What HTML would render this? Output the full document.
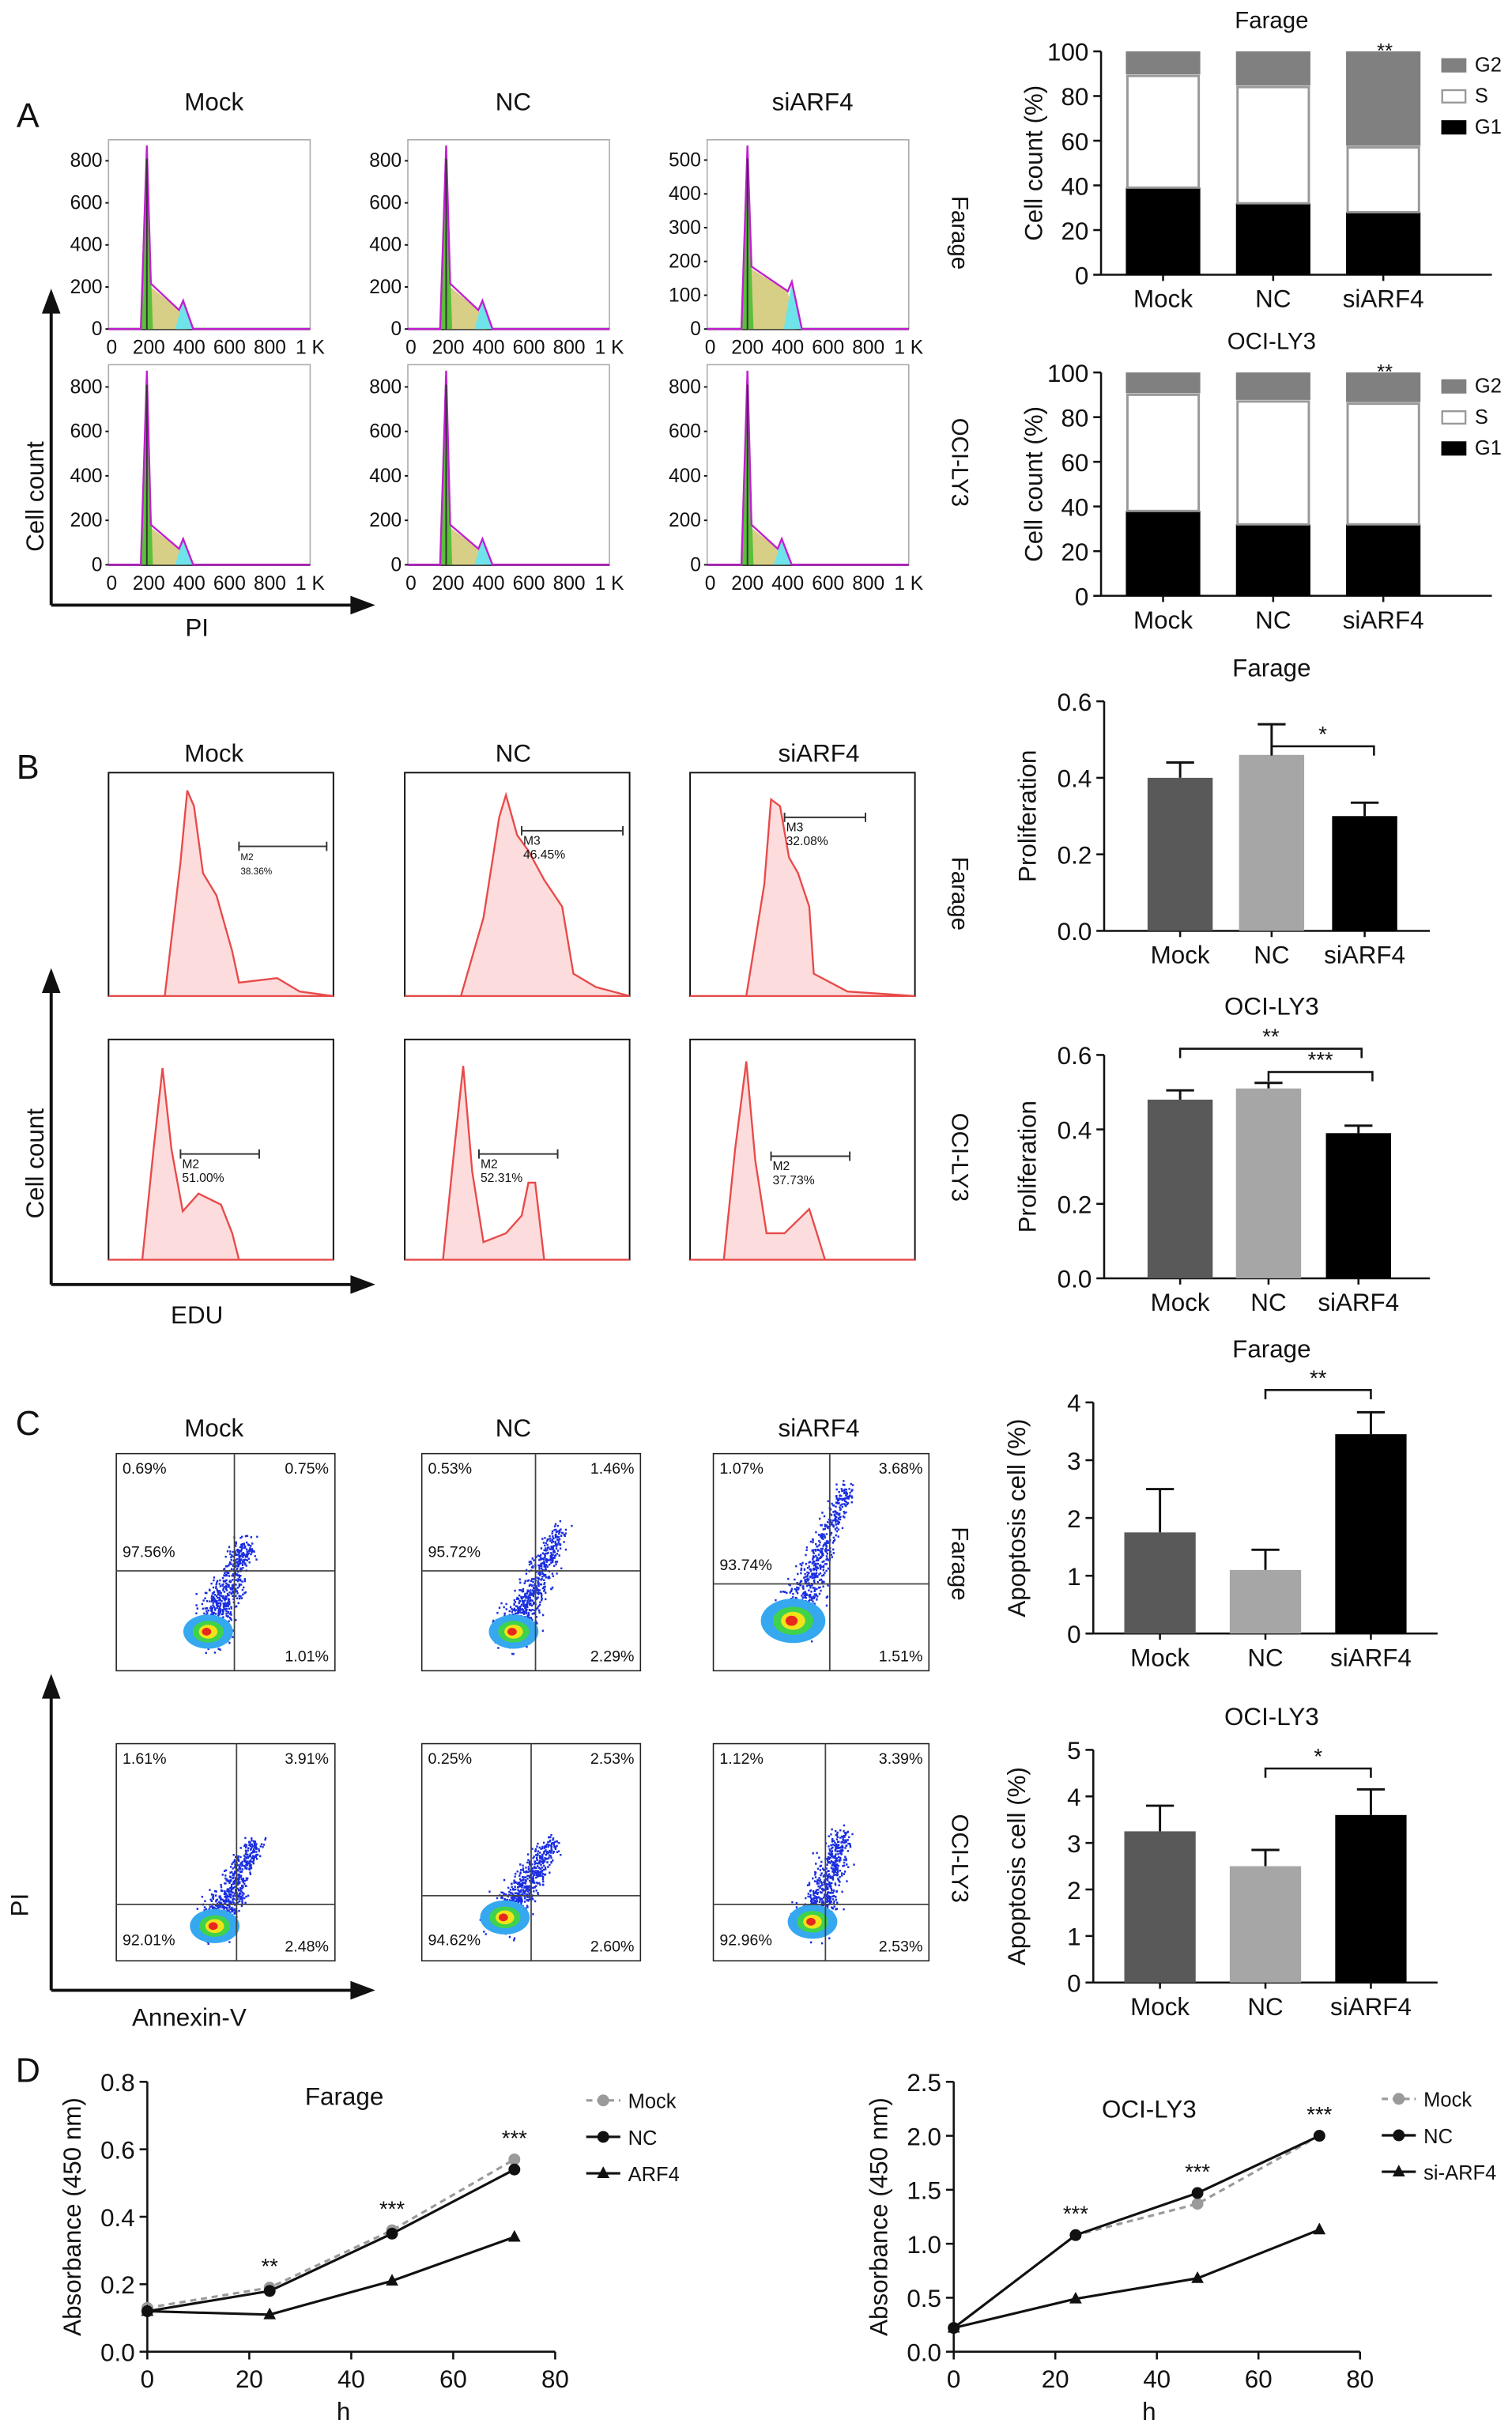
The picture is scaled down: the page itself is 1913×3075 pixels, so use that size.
<!DOCTYPE html>
<html><head><meta charset="utf-8"><style>
html,body{margin:0;padding:0;background:#fff;}
svg{display:block;font-family:"Liberation Sans",Arial,sans-serif;}
</style></head><body>
<svg id="fig" width="1913" height="3075" viewBox="0 0 975 1567" xmlns="http://www.w3.org/2000/svg"></svg>
<script>
// ---------- data ----------
const groups = ["Mock","NC","siARF4"];
const phaseNames = ["G1","S","G2"];
const faragePhaseG1 = [39,32,28];
const faragePhaseS = [50,52,29];
const faragePhaseG2 = [11,16,43];
const ociPhaseG1 = [38,32,32];
const ociPhaseS = [52,55,54];
const ociPhaseG2 = [10,13,14];
const farageProlif = [0.40,0.46,0.30];
const farageProlifErr = [0.04,0.08,0.035];
const ociProlif = [0.48,0.51,0.39];
const ociProlifErr = [0.025,0.015,0.02];
const farageApop = [1.75,1.1,3.45];
const farageApopErr = [0.75,0.35,0.38];
const ociApop = [3.25,2.5,3.6];
const ociApopErr = [0.55,0.35,0.55];
const timePoints = [0,24,48,72];
const farageMock = [0.13,0.19,0.36,0.57];
const farageNC = [0.12,0.18,0.35,0.54];
const farageARF4 = [0.12,0.11,0.21,0.34];
const ociMock = [0.22,1.08,1.37,2.0];
const ociNC = [0.22,1.08,1.47,2.0];
const ociARF4 = [0.22,0.49,0.68,1.13];
const farageQuad = [["0.69%","0.75%","97.56%","1.01%"],["0.53%","1.46%","95.72%","2.29%"],["1.07%","3.68%","93.74%","1.51%"]];
const ociQuad = [["1.61%","3.91%","92.01%","2.48%"],["0.25%","2.53%","94.62%","2.60%"],["1.12%","3.39%","92.96%","2.53%"]];
const farageEdu = [["M2","38.36%"],["M3","46.45%"],["M3","32.08%"]];
const ociEdu = [["M2","51.00%"],["M2","52.31%"],["M2","37.73%"]];

const NS="http://www.w3.org/2000/svg";
const svg=document.getElementById('fig');
function mk(tag,attrs,parent,name){
  const e=document.createElementNS(NS,tag);
  for(const k in attrs)e.setAttribute(k,attrs[k]);
  
  
  (parent||svg).appendChild(e);return e;
}
function txt(x,y,s,size,name,opts){
  opts=opts||{};
  const a={x:x,y:y,'font-size':size,'text-anchor':opts.anchor||'middle',fill:opts.fill||'#111'};
  if(opts.rot)a.transform='rotate('+opts.rot+' '+x+' '+y+')';
  const t=mk('text',a,opts.parent,name);t.textContent=s;return t;
}
function line(x1,y1,x2,y2,name,w,c,p){return mk('line',{x1:x1,y1:y1,x2:x2,y2:y2,stroke:c||'#111','stroke-width':w||1.3},p,name);}
function arrow(x1,y1,x2,y2,name){
  line(x1,y1,x2,y2,name+'-line',2);
  const dx=x2-x1,dy=y2-y1,L=Math.hypot(dx,dy),ux=dx/L,uy=dy/L;
  const px=-uy,py=ux;
  mk('polygon',{points:[x2+ux*4,y2+uy*4,x2-ux*12+px*6,y2-uy*12+py*6,x2-ux*12-px*6,y2-uy*12-py*6].join(','),fill:'#111'},null,name+'-head');
}

// ---------- Panel letters ----------
txt(18,82,"A",22,"panel-a-label");
txt(18,502,"B",22,"panel-b-label");
txt(18,925,"C",22,"panel-c-label");
txt(18,1342,"D",22,"panel-d-label");

// ---------- Panel A cell cycle histograms ----------
const aCols=[{x:70,t:"Mock"},{x:263,t:"NC"},{x:456,t:"siARF4"}];
const aRows=[{y:90,b:212},{y:235,b:364}];
const aYT=[[800,600,400,200,0],[800,600,400,200,0],[500,400,300,200,100,0]];
aCols.forEach((c,ci)=>txt(c.x+68,71,c.t,16,"panel-a-title-"+c.t.toLowerCase()));
aRows.forEach((r,ri)=>aCols.forEach((c,ci)=>{
  const g=mk('g',{},null,'cycle-histogram-'+ri+'-'+ci);
  const w=130,x0=c.x,b=r.b,h=b-r.y;
  mk('rect',{x:x0,y:r.y,width:w,height:h,fill:'#fff',stroke:'#aaa','stroke-width':0.8},g,'histogram-frame');
  const ticks=(ri==0?aYT[ci]:[800,600,400,200,0]);
  const maxv=ri==0&&ci==2?560:900;
  ticks.forEach(v=>{const yy=b-v/maxv*(h);txt(x0-4,yy+4,String(v),12.5,'y-tick',{anchor:'end',parent:g});line(x0-2,yy,x0,yy,'y-tick-mark',1,'#111',g);});
  ["0","200","400","600","800","1 K"].forEach((s,i)=>{const xx=x0+i*w/5;txt(xx+(i==0?2:0),b+16,s,12.5,'x-tick',{parent:g});});
  line(x0,b,x0+w,b,'histogram-baseline',1.5,'#222',g);
  const X=f=>x0+f*w, Y=f=>b-f*h;
  const pk=ci==2?0.2:0.19, g2=ci==2&&ri==0?0.42:0.37;
  const s1=ri==0?(ci==2?0.33:0.24):0.2, s2=ri==0?(ci==2?0.2:0.1):0.08;
  mk('polygon',{points:[X(pk),Y(0),X(pk),Y(s1),X(g2-0.02),Y(s2),X(g2+0.02),Y(0)].join(' '),fill:'#d8cf86'},g,'s-phase-fill');
  mk('polygon',{points:[X(pk-0.03),Y(0),X(pk),Y(0.95),X(pk+0.03),Y(0)].join(' '),fill:'#5bbf3a'},g,'g1-fill');
  mk('polygon',{points:[X(g2-0.04),Y(0),X(g2),Y(s2+0.05),X(g2+0.05),Y(0)].join(' '),fill:'#6fe3ea'},g,'g2-fill');
  mk('polyline',{points:[X(0),Y(0),X(pk-0.03),Y(0),X(pk),Y(0.97),X(pk+0.02),Y(s1),X(g2-0.02),Y(s2),X(g2),Y(s2+0.05),X(g2+0.05),Y(0),X(1),Y(0)].join(' '),fill:'none',stroke:'#c020d0','stroke-width':1.2},g,'histogram-fit');
  line(X(pk),Y(0),X(pk),Y(0.9),'g1-peak-line',1,'#333',g);
}));
txt(614,150,"Farage",15,"row-label-farage-a",{rot:90});
txt(614,298,"OCI-LY3",15,"row-label-oci-a",{rot:90});
arrow(33,390,33,190,"a-y-arrow");arrow(33,390,238,390,"a-x-arrow");
txt(28,320,"Cell count",16,"a-y-axis-title",{rot:-90});
txt(127,410,"PI",16,"a-x-axis-title");

// ---------- Stacked bar charts ----------
function stacked(top,g1,s,g2,title,key){
  const ax=710,y0=top+144,H=144,sc=v=>y0-v/100*H;
  txt(820,top-15,title,15,key+'-title');
  line(ax,top,ax,y0,key+'-y-axis');line(ax,y0,962,y0,key+'-x-axis');
  [0,20,40,60,80,100].forEach(v=>{line(ax-5,sc(v),ax,sc(v),'y-tick-mark');txt(ax-8,sc(v)+6,String(v),16,'y-tick',{anchor:'end'});});
  txt(672,top+72,"Cell count (%)",16,key+'-y-axis-title',{rot:-90});
  groups.forEach((gname,i)=>{
    const cx=750+i*71,w=48;
    mk('rect',{x:cx-w/2,y:sc(g1[i]),width:w,height:y0-sc(g1[i]),fill:'#000'},null,key+'-bar-g1-'+gname);
    mk('rect',{x:cx-w/2+1,y:sc(g1[i]+s[i]),width:w-2,height:sc(g1[i])-sc(g1[i]+s[i]),fill:'#fff',stroke:'#999','stroke-width':1.5},null,key+'-bar-s-'+gname);
    mk('rect',{x:cx-w/2,y:sc(100),width:w,height:sc(g1[i]+s[i])-sc(100)-1,fill:'#808080'},null,key+'-bar-g2-'+gname);
    line(cx,y0,cx,y0+4,'x-tick-mark');
    txt(cx,y0+21,gname,16,key+'-x-label-'+gname);
  });
  txt(893,top+4,"**",13,key+'-significance');
  [["#808080","G2"],["#fff","S"],["#000","G1"]].forEach((l,i)=>{
    mk('rect',{x:930,y:top+5+i*20,width:15,height:8,fill:l[0],stroke:l[0]=="#fff"?'#999':l[0],'stroke-width':1.2},null,key+'-legend-swatch-'+l[1]);
    txt(951,top+13+i*20,l[1],13,key+'-legend-'+l[1],{anchor:'start'});
  });
}
stacked(33,faragePhaseG1,faragePhaseS,faragePhaseG2,"Farage","farage-cycle");
stacked(240,ociPhaseG1,ociPhaseS,ociPhaseG2,"OCI-LY3","oci-cycle");

// ---------- Panel B EdU histograms ----------
const bCols=[70,261,445];
const bW=145;
const bShapes=[
 [[0,0],[0.25,0],[0.32,0.6],[0.35,0.92],[0.38,0.85],[0.42,0.55],[0.48,0.45],[0.55,0.2],[0.58,0.06],[0.75,0.08],[0.85,0.02],[1,0]],
 [[0,0],[0.25,0],[0.35,0.35],[0.42,0.8],[0.45,0.9],[0.5,0.72],[0.55,0.65],[0.62,0.52],[0.7,0.4],[0.75,0.1],[0.85,0.04],[1,0]],
 [[0,0],[0.25,0],[0.33,0.5],[0.36,0.88],[0.4,0.85],[0.44,0.62],[0.48,0.55],[0.53,0.4],[0.55,0.1],[0.7,0.02],[1,0]]];
const bShapes2=[
 [[0,0],[0.15,0],[0.2,0.5],[0.24,0.87],[0.28,0.5],[0.33,0.22],[0.4,0.3],[0.5,0.25],[0.55,0.12],[0.58,0],[1,0]],
 [[0,0],[0.17,0],[0.22,0.5],[0.26,0.88],[0.3,0.4],[0.35,0.08],[0.45,0.12],[0.52,0.2],[0.55,0.35],[0.58,0.35],[0.62,0],[1,0]],
 [[0,0],[0.15,0],[0.2,0.5],[0.25,0.9],[0.29,0.45],[0.34,0.12],[0.42,0.12],[0.5,0.2],[0.53,0.23],[0.57,0.1],[0.6,0],[1,0]]];
const bMark=[[0.58,0.97,0.33],[0.52,0.97,0.26],[0.42,0.78,0.2]];
const bMark2=[[0.32,0.67,0.52],[0.33,0.68,0.52],[0.36,0.71,0.53]];
[[498,642,bShapes,bMark,farageEdu],[670,812,bShapes2,bMark2,ociEdu]].forEach((row,ri)=>{
  bCols.forEach((x0,ci)=>{
    const g=mk('g',{},null,'edu-histogram-'+ri+'-'+ci);
    const top=row[0],b=row[1],h=b-top;
    mk('rect',{x:x0,y:top,width:bW,height:h,fill:'#fff',stroke:'#111','stroke-width':1},g,'edu-frame');
    const pts=row[2][ci].map(p=>(x0+p[0]*bW)+','+(b-p[1]*h)).join(' ');
    mk('polygon',{points:pts,fill:'#fcdcdc',stroke:'#e84a4a','stroke-width':1.2},g,'edu-curve');
    const m=row[3][ci],my=top+m[2]*h;
    line(x0+m[0]*bW,my,x0+m[1]*bW,my,'edu-gate',1,'#333',g);
    line(x0+m[0]*bW,my-3,x0+m[0]*bW,my+3,'edu-gate-end',1,'#333',g);
    line(x0+m[1]*bW,my-3,x0+m[1]*bW,my+3,'edu-gate-end',1,'#333',g);
    const fs=ri==0&&ci==0?6:8;
    txt(x0+m[0]*bW+1,my+9,row[4][ci][0],fs,'edu-gate-name',{anchor:'start',parent:g});
    txt(x0+m[0]*bW+1,my+18,row[4][ci][1],fs,'edu-gate-value',{anchor:'start',parent:g});
  });
});
["Mock","NC","siARF4"].forEach((t,i)=>txt([138,331,528][i],491,t,16,"panel-b-title-"+t.toLowerCase()));
txt(614,576,"Farage",15,"row-label-farage-b",{rot:90});
txt(614,746,"OCI-LY3",15,"row-label-oci-b",{rot:90});
arrow(33,828,33,628,"b-y-arrow");arrow(33,828,238,828,"b-x-arrow");
txt(28,750,"Cell count",16,"b-y-axis-title",{rot:-90});
txt(127,853,"EDU",16,"b-x-axis-title");

// ---------- bar chart helper ----------
function barChart(o){
  const sc=v=>o.y0-v/o.max*o.H;
  txt(o.cx,o.top-16,o.title,16,o.key+'-title');
  line(o.ax,o.y0-o.H,o.ax,o.y0,o.key+'-y-axis');line(o.ax,o.y0,o.ax+o.xw,o.y0,o.key+'-x-axis');
  o.ticks.forEach(v=>{line(o.ax-5,sc(v),o.ax,sc(v),'y-tick-mark');txt(o.ax-8,sc(v)+6,o.fmt(v),16,'y-tick',{anchor:'end'});});
  txt(o.ax-44,o.y0-o.H/2,o.ylab,16,o.key+'-y-axis-title',{rot:-90});
  const cols=['#595959','#a6a6a6','#000'];
  groups.forEach((gname,i)=>{
    const cx=o.xs[i];
    const v=o.vals[i],e=o.errs[i];
    line(cx,sc(v+e),cx,sc(v),o.key+'-error-'+gname,1.5);
    line(cx-9,sc(v+e),cx+9,sc(v+e),o.key+'-error-cap-'+gname,1.5);
    mk('rect',{x:cx-o.bw/2,y:sc(v),width:o.bw,height:o.y0-sc(v),fill:cols[i]},null,o.key+'-bar-'+gname);
    line(cx,o.y0,cx,o.y0+4,'x-tick-mark');
    txt(cx,o.y0+21,gname,16,o.key+'-x-label-'+gname);
  });
  o.sig.forEach(s=>{
    const a=o.xs[s[0]],b=o.xs[s[1]]+s[3],y=s[2];
    mk('polyline',{points:[a,y+6,a,y,b,y,b,y+6].join(' '),fill:'none',stroke:'#111','stroke-width':1.3},null,o.key+'-significance-bracket');
    txt((a+b)/2,y-3,s[4],14,o.key+'-significance-stars');
  });
}
barChart({key:'farage-prolif',title:'Farage',cx:820,top:452,ax:712,y0:600,H:148,max:0.6,xw:210,ticks:[0,0.2,0.4,0.6],fmt:v=>v.toFixed(1),ylab:'Proliferation',xs:[761,820,880],bw:42,vals:farageProlif,errs:farageProlifErr,sig:[[1,2,481,6,'*']]});
barChart({key:'oci-prolif',title:'OCI-LY3',cx:820,top:670,ax:712,y0:824,H:144,max:0.6,xw:210,ticks:[0,0.2,0.4,0.6],fmt:v=>v.toFixed(1),ylab:'Proliferation',xs:[761,818,876],bw:42,vals:ociProlif,errs:ociProlifErr,sig:[[0,2,676,2,'**'],[1,2,691,9,'***']]});
barChart({key:'farage-apop',title:'Farage',cx:820,top:891,ax:705,y0:1053,H:149,max:4,xw:222,ticks:[0,1,2,3,4],fmt:v=>String(v),ylab:'Apoptosis cell (%)',xs:[748,816,884],bw:46,vals:farageApop,errs:farageApopErr,sig:[[1,2,896,0,'**']]});
barChart({key:'oci-apop',title:'OCI-LY3',cx:820,top:1128,ax:705,y0:1278,H:150,max:5,xw:222,ticks:[0,1,2,3,4,5],fmt:v=>String(v),ylab:'Apoptosis cell (%)',xs:[748,816,884],bw:46,vals:ociApop,errs:ociApopErr,sig:[[1,2,1140,0,'*']]});

// ---------- Panel C scatter ----------
let seed=7;function rnd(){seed=(seed*16807)%2147483647;return seed/2147483647;}
function gauss(){return (rnd()+rnd()+rnd()+rnd()-2)/1.2;}
const cBoxes=[[75,937,141,140],[272,937,141,140],[460,937,139,140],[75,1124,141,140],[272,1124,141,140],[460,1124,139,140]];
const cQuad=[[0.54,0.54],[0.52,0.54],[0.54,0.6],[0.55,0.74],[0.5,0.7],[0.52,0.74]];
const cBlob=[[0.42,0.82],[0.42,0.82],[0.37,0.77],[0.45,0.84],[0.38,0.8],[0.46,0.82]];
const cTail=[[0.6,0.4],[0.63,0.35],[0.62,0.15],[0.63,0.45],[0.6,0.45],[0.6,0.42]];
cBoxes.forEach((bx,i)=>{
  const g=mk('g',{},null,'apoptosis-scatter-'+i);
  const [x0,y0,w,h]=bx;
  mk('rect',{x:x0,y:y0,width:w,height:h,fill:'#fff',stroke:'#222','stroke-width':0.8},g,'scatter-frame');
  const bl=cBlob[i],tl=cTail[i];
  let pts='';
  for(let k=0;k<650;k++){
    const t=Math.pow(rnd(),1.6);
    const cx=bl[0]+(tl[0]-bl[0])*t,cy=bl[1]+(tl[1]-bl[1])*t;
    const sp=0.09*(1-t*0.5);
    const px=x0+(cx+gauss()*sp)*w,py=y0+(cy+gauss()*sp)*h;
    if(px>x0+2&&px<x0+w-2&&py>y0+2&&py<y0+h-2)pts+='M'+px.toFixed(1)+' '+py.toFixed(1)+'h1.2';
  }
  mk('path',{d:pts,stroke:'#1a2ee0','stroke-width':1.3,fill:'none'},g,'scatter-points');
  const bx0=x0+bl[0]*w,by0=y0+bl[1]*h,s=i==2?1.3:1;
  mk('ellipse',{cx:bx0,cy:by0,rx:16*s,ry:11*s,fill:'#35a8f0'},g,'density-blue');
  mk('ellipse',{cx:bx0,cy:by0,rx:10*s,ry:7*s,fill:'#3fd24a'},g,'density-green');
  mk('ellipse',{cx:bx0,cy:by0,rx:6*s,ry:4.5*s,fill:'#f2e21a'},g,'density-yellow');
  mk('ellipse',{cx:bx0-1,cy:by0,rx:3*s,ry:2.5*s,fill:'#e8281e'},g,'density-red');
  const q=cQuad[i];
  line(x0+q[0]*w,y0,x0+q[0]*w,y0+h,'quadrant-vertical',0.9,'#444',g);
  line(x0,y0+q[1]*h,x0+w,y0+q[1]*h,'quadrant-horizontal',0.9,'#444',g);
  const lab=(i<3?farageQuad:ociQuad)[i%3];
  txt(x0+4,y0+13,lab[0],10,'quadrant-ul',{anchor:'start',parent:g});
  txt(x0+w-4,y0+13,lab[1],10,'quadrant-ur',{anchor:'end',parent:g});
  const lly=i<3?y0+q[1]*h-9:y0+h-10;
  txt(x0+4,lly,lab[2],10,'quadrant-ll',{anchor:'start',parent:g});
  txt(x0+w-4,y0+h-6,lab[3],10,'quadrant-lr',{anchor:'end',parent:g});
});
["Mock","NC","siARF4"].forEach((t,i)=>txt([138,331,528][i],926,t,16,"panel-c-title-"+t.toLowerCase()));
txt(614,1008,"Farage",15,"row-label-farage-c",{rot:90});
txt(614,1198,"OCI-LY3",15,"row-label-oci-c",{rot:90});
arrow(33,1283,33,1083,"c-y-arrow");arrow(33,1283,238,1283,"c-x-arrow");
txt(18,1228,"PI",16,"c-y-axis-title",{rot:-90});
txt(122,1306,"Annexin-V",16,"c-x-axis-title");

// ---------- Panel D line charts ----------
function lineChart(o){
  const sx=v=>o.ax+v/80*o.W, sy=v=>o.y0-v/o.max*o.H;
  line(o.ax,o.y0-o.H,o.ax,o.y0,o.key+'-y-axis');line(o.ax,o.y0,o.ax+o.W,o.y0,o.key+'-x-axis');
  o.yt.forEach(v=>{line(o.ax-5,sy(v),o.ax,sy(v),'y-tick-mark');txt(o.ax-8,sy(v)+6,o.fmt(v),16,'y-tick',{anchor:'end'});});
  [0,20,40,60,80].forEach(v=>{line(sx(v),o.y0,sx(v),o.y0+5,'x-tick-mark');txt(sx(v),o.y0+23,String(v),16,'x-tick');});
  txt(o.ax-43,o.y0-o.H/2,"Absorbance (450 nm)",16,o.key+'-y-axis-title',{rot:-90});
  txt(o.ax+o.W/2-5,o.y0+44,"h",16,o.key+'-x-axis-title');
  txt(o.tx,o.ty,o.title,16,o.key+'-title');
  const ser=[[o.s[0],'#9a9a9a','4,3','circle','Mock'],[o.s[1],'#111','','circle','NC'],[o.s[2],'#111','','tri',o.l3]];
  ser.forEach((s,si)=>{
    mk('polyline',{points:timePoints.map((t,k)=>sx(t)+','+sy(s[0][k])).join(' '),fill:'none',stroke:s[1],'stroke-width':1.6,'stroke-dasharray':s[2]},null,o.key+'-line-'+s[4]);
    timePoints.forEach((t,k)=>{
      if(s[3]=='circle')mk('circle',{cx:sx(t),cy:sy(s[0][k]),r:3.8,fill:s[1]},null,o.key+'-point-'+s[4]);
      else mk('polygon',{points:[sx(t),sy(s[0][k])-4.5,sx(t)-4,sy(s[0][k])+3,sx(t)+4,sy(s[0][k])+3].join(','),fill:s[1]},null,o.key+'-point-'+s[4]);
    });
    const ly=o.ly+si*23.5;
    mk('line',{x1:o.lx,y1:ly,x2:o.lx+22,y2:ly,stroke:s[1],'stroke-width':1.6,'stroke-dasharray':s[2]},null,o.key+'-legend-line-'+s[4]);
    if(s[3]=='circle')mk('circle',{cx:o.lx+11,cy:ly,r:3.8,fill:s[1]},null,o.key+'-legend-marker');
    else mk('polygon',{points:[o.lx+11,ly-4.5,o.lx+7,ly+3,o.lx+15,ly+3].join(','),fill:s[1]},null,o.key+'-legend-marker');
    txt(o.lx+27,ly+5,s[4],13,o.key+'-legend-'+s[4],{anchor:'start'});
  });
  o.stars.forEach((st,k)=>{const t=timePoints[k+1];const top=Math.max(o.s[0][k+1],o.s[1][k+1]);txt(sx(t),sy(top)-9,st,14,o.key+'-significance-'+t);});
}
lineChart({key:'farage-cck8',ax:95,y0:1516,W:263,H:174,max:0.8,yt:[0,0.2,0.4,0.6,0.8],fmt:v=>v.toFixed(1),s:[farageMock,farageNC,farageARF4],l3:'ARF4',lx:378,ly:1354,tx:222,ty:1357,title:'Farage',stars:['**','***','***']});
lineChart({key:'oci-cck8',ax:615,y0:1516,W:262,H:174,max:2.5,yt:[0,0.5,1,1.5,2,2.5],fmt:v=>v.toFixed(1),s:[ociMock,ociNC,ociARF4],l3:'si-ARF4',lx:891,ly:1353,tx:741,ty:1365,title:'OCI-LY3',stars:['***','***','***']});
</script>
</body></html>
